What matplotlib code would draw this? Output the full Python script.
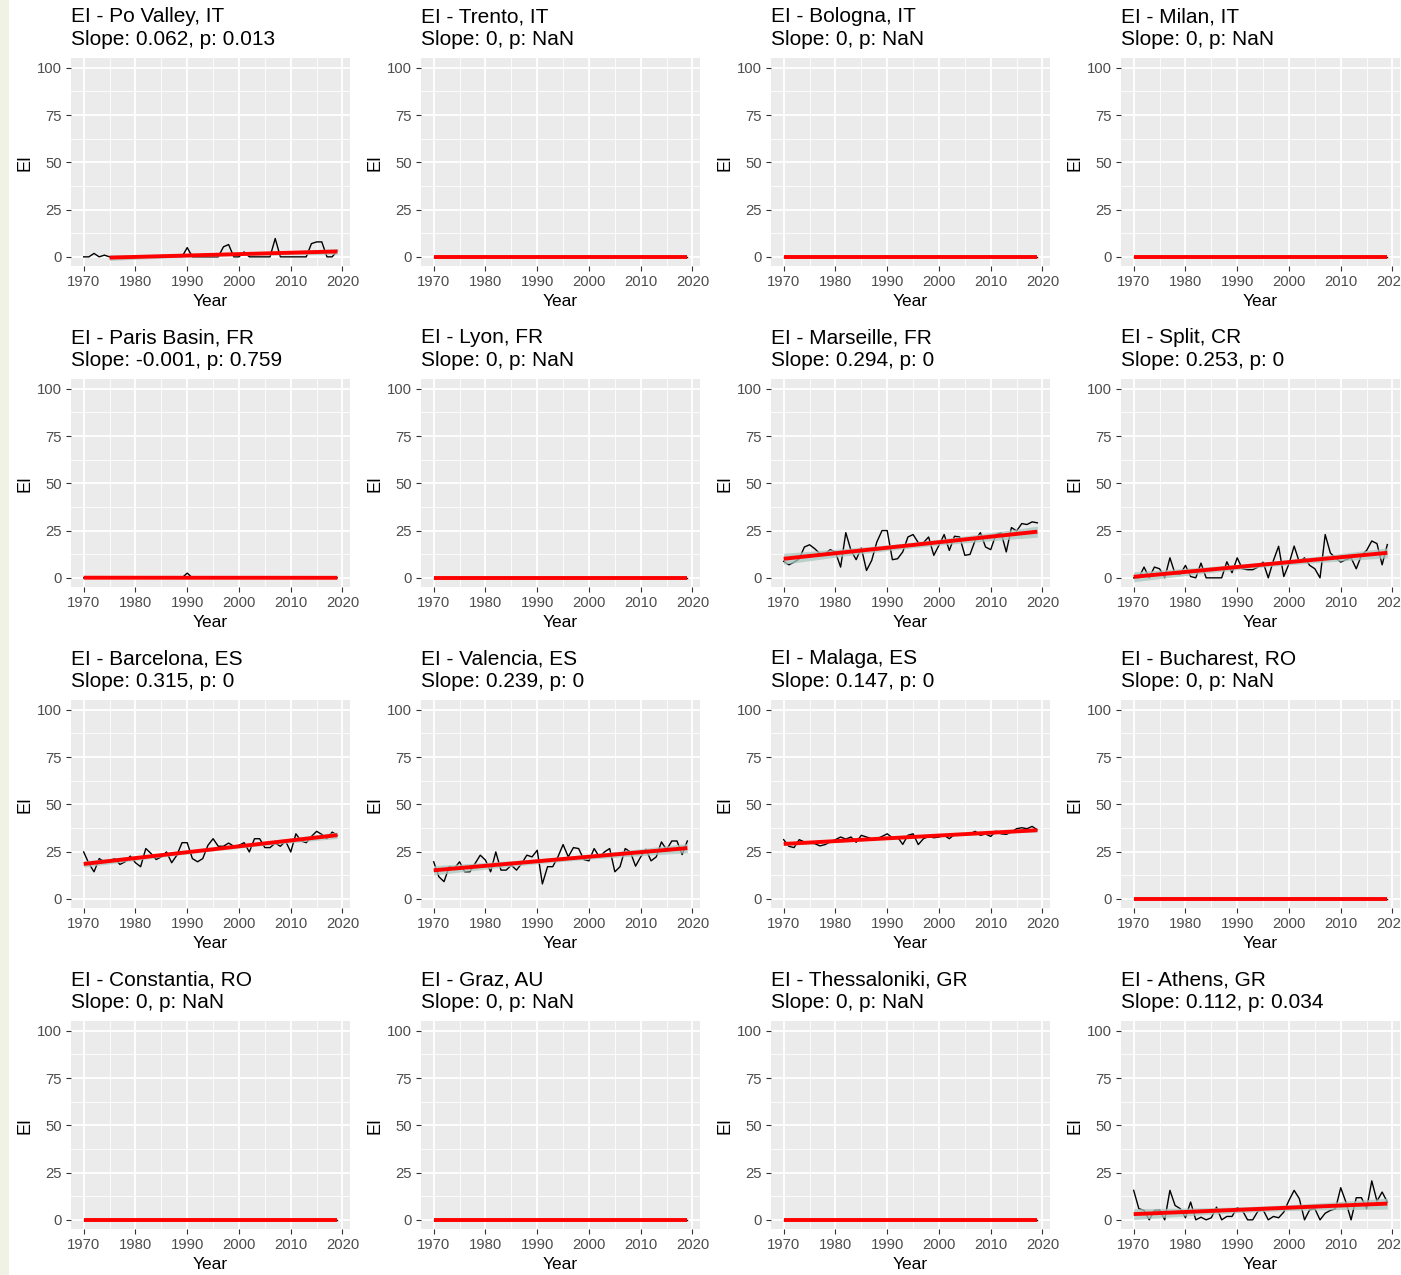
import numpy as np
import matplotlib
matplotlib.use("Agg")
import matplotlib.pyplot as plt
from matplotlib.ticker import MultipleLocator, FixedLocator
from matplotlib.patches import Rectangle

plt.rcParams['font.family'] = ['Liberation Sans', 'DejaVu Sans']

years = list(range(1970, 2020))

sites = ["Po Valley, IT", "Trento, IT", "Bologna, IT", "Milan, IT",
         "Paris Basin, FR", "Lyon, FR", "Marseille, FR", "Split, CR",
         "Barcelona, ES", "Valencia, ES", "Malaga, ES", "Bucharest, RO",
         "Constantia, RO", "Graz, AU", "Thessaloniki, GR", "Athens, GR"]
slopes = ["0.062", "0", "0", "0", "-0.001", "0", "0.294", "0.253",
          "0.315", "0.239", "0.147", "0", "0", "0", "0", "0.112"]
pvals = ["0.013", "NaN", "NaN", "NaN", "0.759", "NaN", "0", "0",
         "0", "0", "0", "NaN", "NaN", "NaN", "NaN", "0.034"]
fit_start = [1975, 1970, 1970, 1970, 1970, 1970, 1970, 1970,
             1970, 1970, 1970, 1970, 1970, 1970, 1970, 1970]

zeros = [0] * 50

po_valley = [0, 0, 1.8, 0, 0.9, 0, 0, 0, 0, 0,
             0, 0, 0, 0, 0, 0, 0, 0, 0, 0,
             4.9, 0, 0, 0, 0, 0, 0, 5.3, 6.5, 0,
             0, 2.6, 0, 0, 0, 0, 0, 9.7, 0, 0,
             0, 0, 0, 0, 7.0, 7.9, 7.9, 0, 0, 3.2]
paris_basin = [0] * 20 + [2.5] + [0] * 29
marseille = [8.7, 6.9, 8.3, 10.0, 16.3, 17.5, 15.4, 12.8, 12.8, 14.9,
             13.6, 5.7, 23.9, 14.5, 9.6, 15.8, 3.9, 9.2, 19.0, 25.0,
             25.0, 9.6, 10.1, 13.7, 21.6, 22.9, 18.6, 18.6, 21.6, 11.9,
             17.2, 22.9, 14.5, 22.0, 21.6, 11.9, 12.4, 19.9, 23.9, 16.3,
             14.9, 22.9, 23.9, 13.7, 26.6, 24.8, 28.7, 28.2, 29.6, 29.1]
split = [0, 0, 5.7, 0, 5.7, 4.8, 0, 10.6, 2.1, 1.8,
         6.6, 0.7, 0, 7.8, 0, 0, 0, 0, 8.5, 2.7,
         10.6, 4.8, 4.3, 4.3, 5.7, 8.3, 0, 9.2, 16.7, 0.7,
         7.4, 16.8, 8.3, 10.6, 6.6, 4.8, 0, 22.9, 13.1, 10.6,
         8.3, 9.6, 10.6, 4.8, 11.9, 14.5, 19.5, 18.1, 6.9, 17.6]
barcelona = [24.8, 18.7, 14.3, 21.3, 19.6, 20.1, 21.3, 18.2, 19.6, 22.6,
             19.1, 17.0, 26.6, 24.0, 20.8, 22.2, 24.8, 19.1, 23.1, 29.7,
             29.7, 21.3, 19.6, 21.3, 28.3, 31.8, 27.8, 27.8, 29.5, 27.8,
             28.3, 29.7, 24.8, 31.8, 31.8, 27.1, 27.1, 29.5, 27.8, 30.6,
             24.8, 34.4, 30.6, 29.7, 33.0, 35.7, 34.1, 31.8, 35.3, 33.6]
valencia = [19.6, 11.7, 9.1, 17.0, 16.1, 19.6, 14.3, 14.3, 18.7, 23.1,
            20.5, 14.3, 24.8, 15.2, 15.2, 17.8, 15.2, 18.7, 23.1, 22.2,
            25.7, 7.9, 17.0, 17.0, 22.2, 28.7, 22.2, 27.1, 26.6, 20.8,
            20.1, 26.6, 22.2, 24.8, 26.6, 14.3, 17.0, 26.6, 24.8, 17.3,
            22.2, 26.2, 20.1, 22.2, 30.1, 26.0, 30.6, 30.6, 23.4, 30.6]
malaga = [31.3, 27.8, 27.1, 31.3, 30.1, 29.5, 29.2, 28.0, 28.7, 30.1,
          31.3, 32.7, 31.6, 32.7, 29.9, 33.6, 32.7, 31.8, 31.8, 33.0,
          34.4, 32.3, 32.7, 28.8, 33.6, 34.4, 28.7, 31.8, 33.0, 32.3,
          32.7, 33.6, 31.8, 34.1, 34.3, 33.6, 34.4, 35.7, 33.6, 34.3,
          33.0, 35.8, 34.4, 34.1, 35.3, 37.1, 37.6, 37.1, 38.3, 36.5]
athens = [15.6, 5.9, 5.0, 0, 5.0, 5.3, 0, 15.6, 7.6, 5.9,
          1.1, 9.4, 0, 1.4, 0, 1.1, 6.7, 0, 1.8, 1.8,
          6.4, 5.0, 0, 0, 4.6, 5.3, 0, 1.8, 1.1, 4.1,
          10.3, 15.6, 11.2, 0, 5.3, 5.9, 0, 3.5, 5.0, 5.9,
          17.0, 9.4, 0, 11.7, 11.7, 5.9, 20.6, 9.9, 14.7, 9.4]

series = [po_valley, zeros, zeros, zeros,
          paris_basin, zeros, marseille, split,
          barcelona, valencia, malaga, zeros,
          zeros, zeros, zeros, athens]

x_ticks = [1970, 1980, 1990, 2000, 2010, 2020]
y_ticks = [0, 25, 50, 75, 100]

W, H = 1401, 1275
fig = plt.figure(figsize=(W / 100, H / 100), dpi=100)
fig.patch.set_facecolor('white')
fig.patches.append(Rectangle((0, 0), 9 / W, 1, transform=fig.transFigure,
                             facecolor='#eff2e4', edgecolor='none', zorder=0))

T_CRIT = 2.01

for i, (name, vals) in enumerate(zip(sites, series)):
    r, c = divmod(i, 4)
    left = 71 + 350 * c
    top = 58.3 + 321 * r
    pw, ph = 279, 208
    ax = fig.add_axes([left / W, 1 - (top + ph) / H, pw / W, ph / H])
    ax.set_facecolor('#EBEBEB')
    for s in ax.spines.values():
        s.set_visible(False)
    ax.set_xlim(1967.55, 2021.45)
    ax.set_ylim(-5, 105)
    ax.xaxis.set_major_locator(FixedLocator(x_ticks))
    ax.yaxis.set_major_locator(FixedLocator(y_ticks))
    ax.xaxis.set_minor_locator(MultipleLocator(5))
    ax.yaxis.set_minor_locator(MultipleLocator(12.5))
    ax.grid(which='major', color='white', lw=1.3)
    ax.grid(which='minor', color='white', lw=0.6)
    ax.set_axisbelow(True)
    ax.tick_params(which='major', length=3.4, width=0.8, color='#333333',
                   labelsize=10.7, labelcolor='#4D4D4D', pad=3.2)
    ax.tick_params(which='minor', length=0)

    yrs = np.array(years, dtype=float)
    v = np.array(vals, dtype=float)
    ax.plot(yrs, v, color='black', lw=1.0, zorder=3)

    m = yrs >= fit_start[i]
    xf, yf = yrs[m], v[m]
    b, a = np.polyfit(xf, yf, 1)
    pred = a + b * xf
    n = len(xf)
    resid = yf - pred
    s = np.sqrt(np.sum(resid ** 2) / (n - 2))
    sxx = np.sum((xf - xf.mean()) ** 2)
    se = s * np.sqrt(1 / n + (xf - xf.mean()) ** 2 / sxx)
    ax.fill_between(xf, pred - T_CRIT * se, pred + T_CRIT * se,
                    color='#a9c6be', alpha=0.75, lw=0, zorder=4)
    ax.plot(xf, pred, color='#FF0000', lw=2.8, zorder=5, solid_capstyle='butt')

    fig.text(left / W, 1 - (top - 36.2) / H, "EI - " + name, fontsize=15,
             ha='left', va='baseline', color='black')
    fig.text(left / W, 1 - (top - 13.6) / H,
             "Slope: " + slopes[i] + ", p: " + pvals[i], fontsize=15,
             ha='left', va='baseline', color='black')
    fig.text((left + pw / 2) / W, 1 - (top + 248) / H, "Year", fontsize=12.5,
             ha='center', va='baseline', color='black')
    fig.text((25 + 350 * c) / W, 1 - (top + 104) / H, "EI", fontsize=13,
             rotation=90, ha='center', va='center', color='black')

fig.savefig("out.png", dpi=100)
